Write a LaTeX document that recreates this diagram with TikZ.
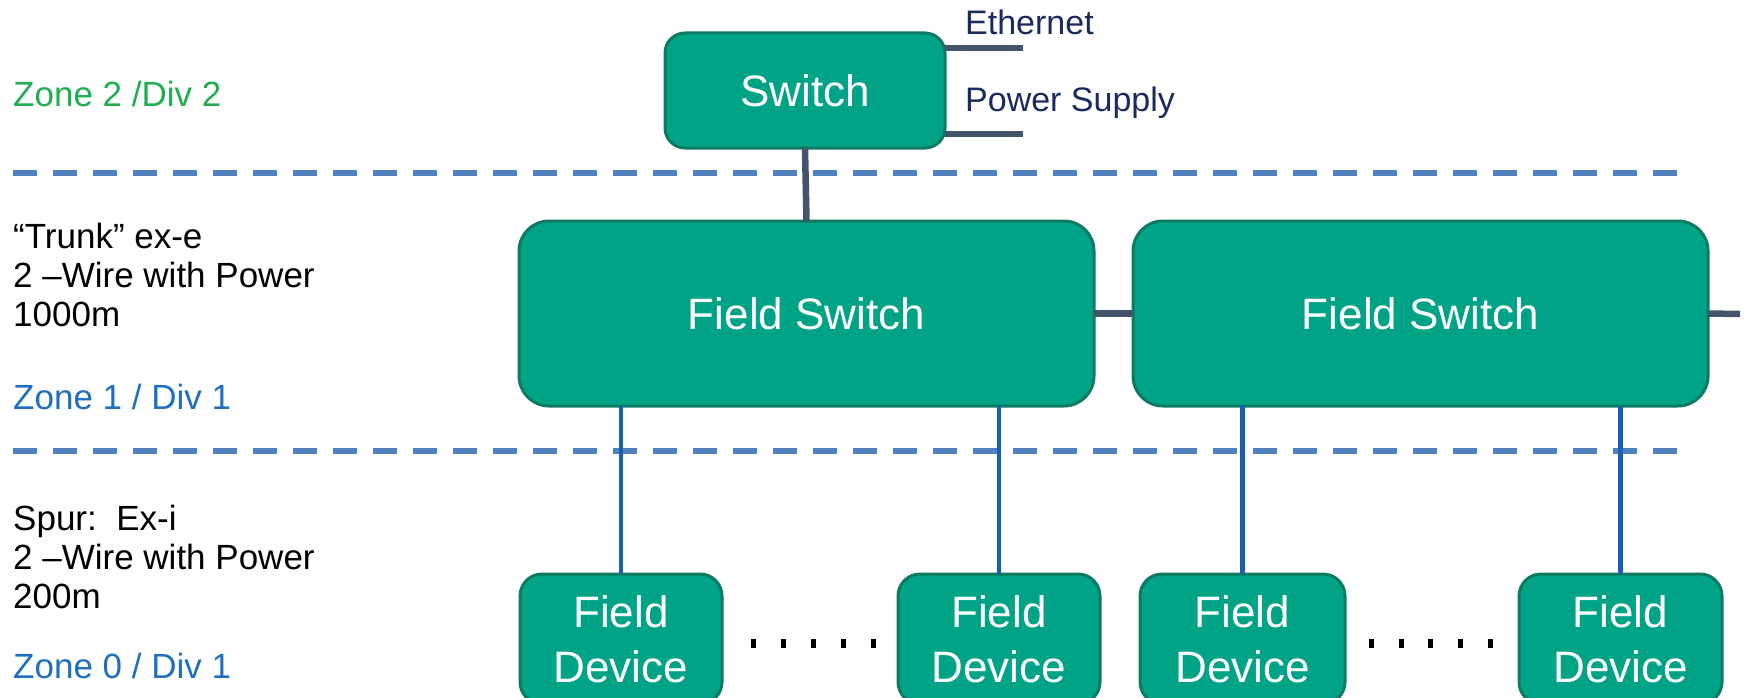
\documentclass[tikz,border=0pt]{standalone}
\usepackage{fontspec}
\setmainfont{Liberation Sans}
\definecolor{boxfill}{HTML}{00A386}
\definecolor{boxline}{HTML}{0D7A62}
\definecolor{wire}{HTML}{44546A}
\definecolor{spur}{HTML}{1A5FB4}
\definecolor{dashc}{HTML}{4F81BD}
\definecolor{zgreen}{HTML}{1FAF50}
\definecolor{zblue}{HTML}{1F6FC0}
\definecolor{navy}{HTML}{1A2A5E}
\tikzset{
  gbox/.style={draw=boxline, fill=boxfill, line width=3pt, rounded corners=#1,
    text=white, inner sep=0pt, outer sep=0pt, align=center,
    font=\fontsize{44}{55}\selectfont},
  gbox/.default=22pt,
  wireline/.style={draw=wire, line width=6.5pt},
  spurline/.style={draw=spur, line width=4.5pt},
  zonesep/.style={draw=dashc, line width=6pt, dash pattern=on 24pt off 16pt},
  lefttext/.style={anchor=west, inner sep=0pt, align=left,
    font=\fontsize{35}{39}\selectfont},
  porttext/.style={anchor=west, inner sep=0pt, text=navy,
    font=\fontsize{34}{39}\selectfont},
  dotmark/.style={fill=black},
}
\begin{document}
\begin{tikzpicture}[x=1pt,y=-1pt]
\useasboundingbox (0,0) rectangle (1747,698);
% zone separators
\draw[zonesep] (13,173) -- (1680,173);
\draw[zonesep] (13,451) -- (1680,451);
% left labels
\node[lefttext, text=zgreen] (z2) at (13,94) {Zone 2 /Div 2};
\node[lefttext] (trunk) at (13,275) {“Trunk” ex-e\\2 –Wire with Power\\1000m};
\node[lefttext, text=zblue] (z1) at (13,397) {Zone 1 / Div 1};
\node[lefttext] (spurt) at (13,557) {Spur:\ \ Ex-i\\2 –Wire with Power\\200m};
\node[lefttext, text=zblue] (z0) at (13,666) {Zone 0 / Div 1};
% coordinates for free ends
\coordinate (eth) at (1023,48);
\coordinate (pwr) at (1023,134);
\coordinate (stub) at (1740,314);
% switch
\node[gbox=20pt, minimum width=280pt, minimum height=115pt] (sw) at (805,90.5) {Switch};
\draw[wireline] (sw.east |- eth) -- (eth);
\draw[wireline] (sw.east |- pwr) -- (pwr);
\node[porttext] (ethl) at (965,22) {Ethernet};
\node[porttext] (pwrl) at (965,103) {Power Supply};
% field switches
\node[gbox=30pt, minimum width=575pt, minimum height=185pt] (fs1) at (806.5,313.5) {Field Switch};
\node[gbox=30pt, minimum width=575pt, minimum height=185pt] (fs2) at (1420.5,313.5) {Field Switch};
\draw[wireline] (sw.south) -- (fs1.north);
\draw[wireline] (fs1.east) -- (fs2.west);
\draw[wireline] (fs2.east) -- (stub);
% dots (drawn before the devices so the last one hides under the box)
\foreach \x in {753,783,813,843,873}
  \fill[dotmark] (\x-2.5,639) rectangle (\x+2.5,648);
\foreach \x in {1371,1401,1430,1460,1490,1520}
  \fill[dotmark] (\x-2.5,639) rectangle (\x+2.5,648);
% field devices
\node[gbox=22pt, minimum width=202pt, minimum height=130pt] (d1) at (621,639) {Field\\Device};
\node[gbox=22pt, minimum width=202pt, minimum height=130pt] (d2) at (999,639) {Field\\Device};
\node[gbox=22pt, minimum width=205pt, minimum height=130pt] (d3) at (1242.5,639) {Field\\Device};
\node[gbox=22pt, minimum width=203pt, minimum height=130pt] (d4) at (1620.5,639) {Field\\Device};
\draw[spurline] (d1.north) -- (d1.north |- fs1.south);
\draw[spurline] (d2.north) -- (d2.north |- fs1.south);
\draw[spurline] (d3.north) -- (d3.north |- fs2.south);
\draw[spurline] (d4.north) -- (d4.north |- fs2.south);
\end{tikzpicture}
\end{document}
